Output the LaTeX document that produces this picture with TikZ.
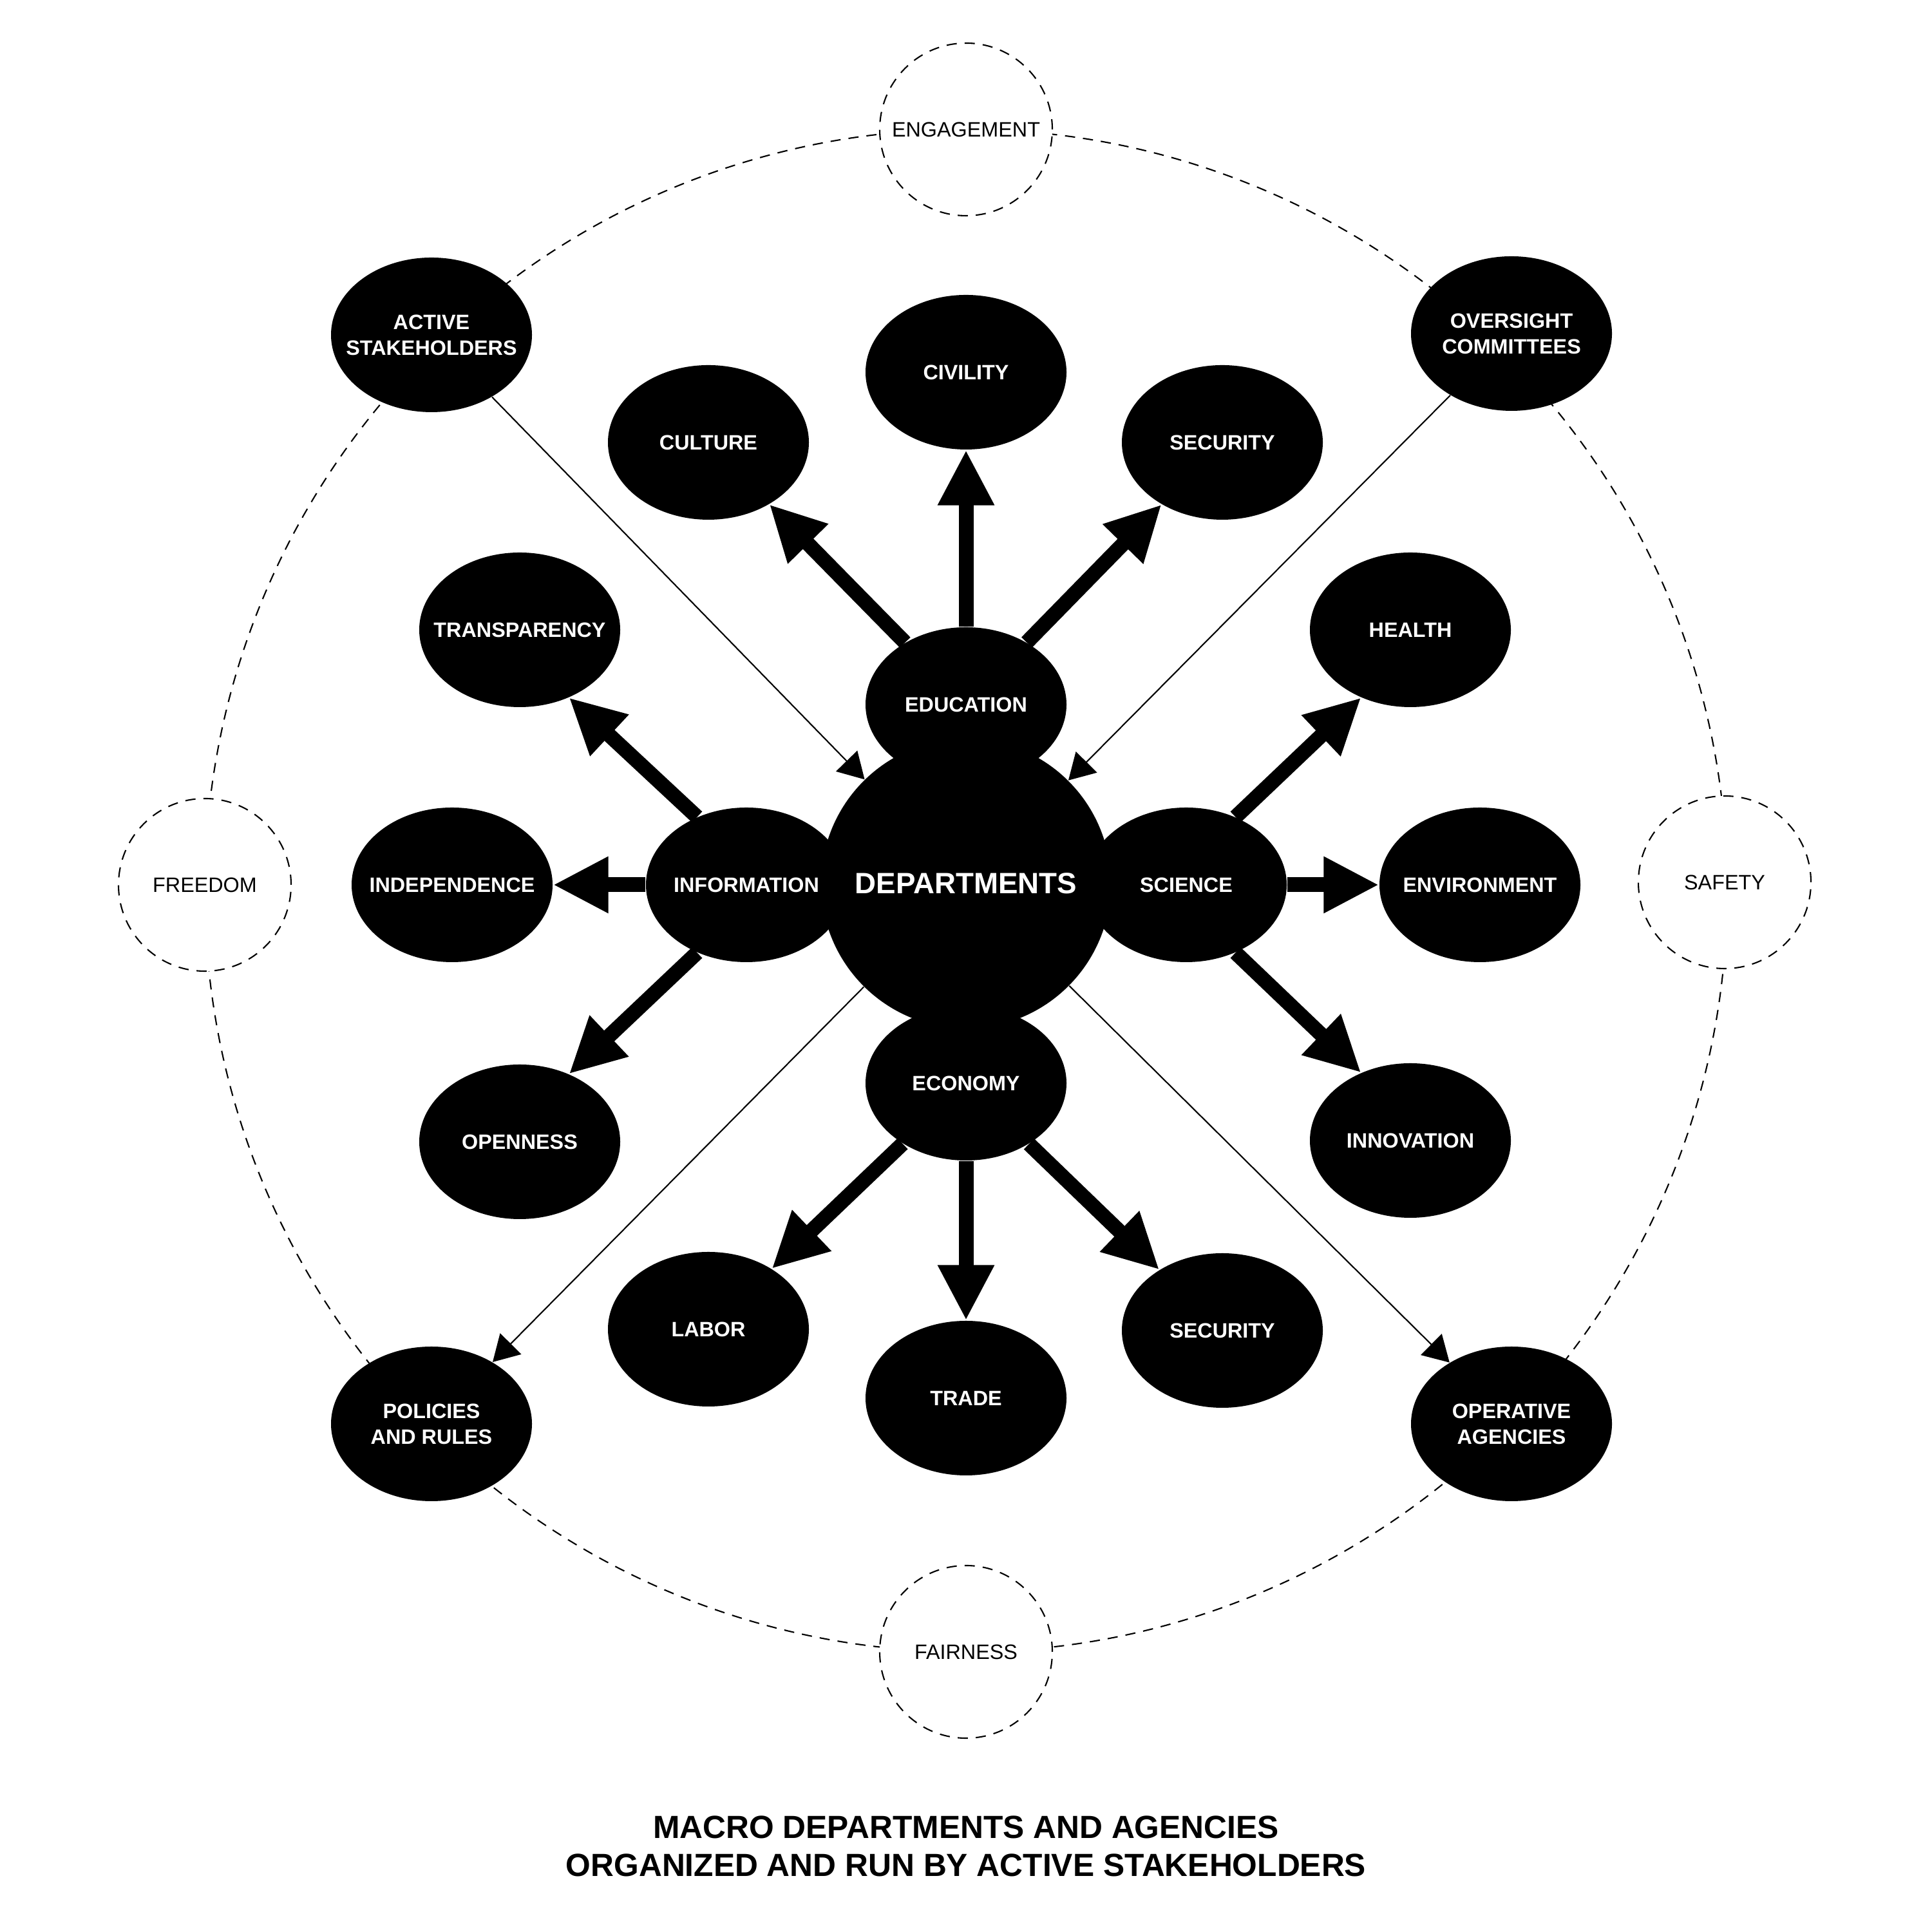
\documentclass[tikz,border=0pt]{standalone}
\usepackage{fontspec}
\setmainfont{Liberation Sans}
\usetikzlibrary{shapes.geometric,arrows.meta}

\begin{document}
\begin{tikzpicture}[>={Triangle[length=4mm,width=4.6mm]},
  main node/.style={ellipse,fill=black,text=white,font=\bfseries\fontsize{9.2}{11.4}\selectfont,minimum width=3.12cm,minimum height=2.4cm,inner xsep=-0.5cm,inner ysep=0pt,align=center},
  value node/.style={circle,draw,fill=white,line width=0.6pt,dash pattern=on 4.5pt off 3.5pt,minimum size=2.68cm,inner sep=0pt,font=\fontsize{9.2}{11}\selectfont},
  big arrow/.style={-{Triangle[length=8.6mm,width=8.2mm]},line width=2.3mm},
  thin arrow/.style={->,line width=0.6pt}]

\useasboundingbox (0,0) rectangle (30,30);

% ring of values
\draw[line width=0.6pt,dash pattern=on 4.5pt off 3.5pt] (15,16.17) circle (11.82);

\node[value node] (eng) at (15,27.99) {ENGAGEMENT};
\node[value node] (fre) at (3.18,16.26) {FREEDOM};
\node[value node] (saf) at (26.78,16.30) {SAFETY};
\node[value node] (fai) at (15,4.35) {FAIRNESS};

\node[main node] (as) at (6.70,24.80) {ACTIVE\\STAKEHOLDERS};
\node[main node] (oc) at (23.47,24.82) {OVERSIGHT\\COMMITTEES};
\node[main node] (pr) at (6.70,7.89) {POLICIES\\AND RULES};
\node[main node] (oa) at (23.47,7.89) {OPERATIVE\\AGENCIES};

% departments
\node[circle,fill=black,text=white,minimum size=4.5cm,inner sep=0pt,font=\bfseries\fontsize{13}{15}\selectfont] (dep) at (15,16.28) {DEPARTMENTS};

\node[main node] (edu) at (15,19.06) {EDUCATION};
\node[main node] (eco) at (15,13.18) {ECONOMY};
\node[main node] (inf) at (11.59,16.26) {INFORMATION};
\node[main node] (sci) at (18.42,16.26) {SCIENCE};

\node[main node] (civ) at (15,24.22) {CIVILITY};
\node[main node] (cul) at (11.00,23.13) {CULTURE};
\node[main node] (sec1) at (18.98,23.13) {SECURITY};
\node[main node] (tra) at (8.07,20.22) {TRANSPARENCY};
\node[main node] (hea) at (21.90,20.22) {HEALTH};
\node[main node] (ind) at (7.02,16.26) {INDEPENDENCE};
\node[main node] (env) at (22.98,16.26) {ENVIRONMENT};
\node[main node] (ope) at (8.07,12.27) {OPENNESS};
\node[main node] (inn) at (21.90,12.29) {INNOVATION};
\node[main node] (lab) at (11.00,9.36) {LABOR};
\node[main node] (sec2) at (18.98,9.34) {SECURITY};
\node[main node] (trd) at (15,8.29) {TRADE};

\draw[big arrow] (edu) -- (cul);
\draw[big arrow] (edu) -- (civ);
\draw[big arrow] (edu) -- (sec1);
\draw[big arrow] (inf.126) -- (tra.-54);
\draw[big arrow] (inf) -- (ind);
\draw[big arrow] (inf.-126) -- (ope.54);
\draw[big arrow] (sci.54) -- (hea.-126);
\draw[big arrow] (sci) -- (env);
\draw[big arrow] (sci.-54) -- (inn.126);
\draw[big arrow] (eco) -- (lab);
\draw[big arrow] (eco) -- (trd);
\draw[big arrow] (eco) -- (sec2);

\draw[thin arrow] (as) -- (dep);
\draw[thin arrow] (oc) -- (dep);
\draw[thin arrow] (dep) -- (pr);
\draw[thin arrow] (dep) -- (oa);

\node[align=center,font=\bfseries\fontsize{14.15}{16.8}\selectfont] (title) at (15,1.33) {MACRO DEPARTMENTS AND AGENCIES\\ORGANIZED AND RUN BY ACTIVE STAKEHOLDERS};

\end{tikzpicture}
\end{document}
